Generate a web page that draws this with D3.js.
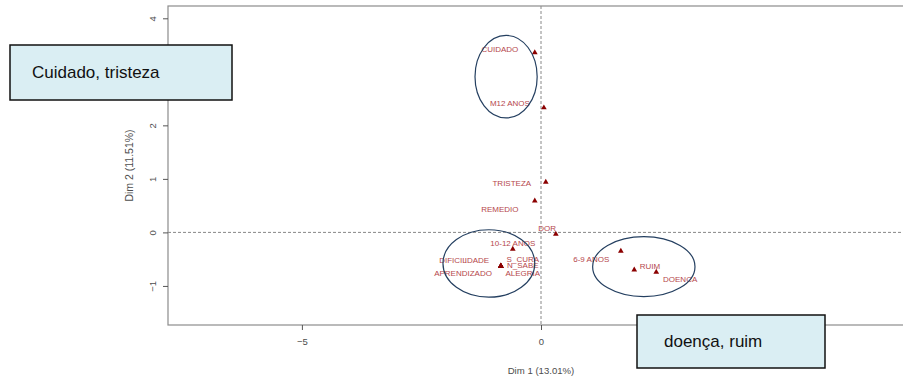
<!DOCTYPE html>
<html>
<head>
<meta charset="utf-8">
<script src="https://cdn.jsdelivr.net/npm/d3@7"></script>
<style>
  html, body { margin: 0; padding: 0; background: #fff; }
  svg { display: block; font-family: "Liberation Sans", Arial, sans-serif; }
</style>
</head>
<body>
<svg id="chart" width="903" height="380"></svg>
<script>
// Category coordinates on the first two dimensions
const categories = ["CUIDADO", "M12 ANOS", "TRISTEZA", "REMEDIO", "DOR", "10-12 ANOS",
  "S_CURA", "N_SABE", "ALEGRIA", "DIFICIL", "IDADE", "APRENDIZADO",
  "6-9 ANOS", "RUIM", "DOENCA"];
const dim1 = [-0.13, 0.06, 0.10, -0.13, 0.31, -0.59,
  -0.84, -0.84, -0.84, -0.84, -0.84, -0.84,
  1.67, 1.95, 2.41];
const dim2 = [3.36, 2.33, 0.94, 0.59, -0.03, -0.31,
  -0.63, -0.63, -0.63, -0.63, -0.63, -0.63,
  -0.35, -0.70, -0.74];
// Label anchor coordinates (after overlap adjustment), same units as the axes
const labelDim1 = [-0.86, -0.65, -0.61, -0.86, 0.13, -0.59,
  -0.38, -0.38, -0.38, -1.84, -1.34, -1.63,
  1.05, 2.28, 2.91];
const labelDim2 = [3.43, 2.42, 0.91, 0.44, 0.08, -0.20,
  -0.50, -0.61, -0.76, -0.51, -0.51, -0.76,
  -0.50, -0.63, -0.87];

// Axis ticks
const xTicks = [-5, 0];
const yTicks = [-1, 0, 1, 2, 3, 4];
const xTitle = "Dim 1 (13.01%)";
const yTitle = "Dim 2 (11.51%)";

// Highlighted groups: centre and radii in axis units
const groupCx = [-0.73, -1.09, 2.15];
const groupCy = [2.91, -0.58, -0.64];
const groupRx = [0.65, 0.96, 1.07];
const groupRy = [0.77, 0.63, 0.56];

// Group captions
const captions = ["Cuidado, tristeza", "doença, ruim"];

const svg = d3.select("#chart");
const plot = { left: 168, right: 914, top: 6, bottom: 325 };

const x = d3.scaleLinear().domain([-7.8, 7.8]).range([plot.left, plot.right]);
const y = d3.scaleLinear().domain([-1.73, 4.23]).range([plot.bottom, plot.top]);

const axisGrey = "#8c8c8c";
const textGrey = "#4d4d4d";

// Reference lines through the origin
svg.append("line")
  .attr("x1", x(0)).attr("x2", x(0))
  .attr("y1", plot.top).attr("y2", plot.bottom)
  .attr("stroke", "#888").attr("stroke-width", 1).attr("stroke-dasharray", "3,2");
svg.append("line")
  .attr("x1", plot.left).attr("x2", plot.right)
  .attr("y1", y(0)).attr("y2", y(0))
  .attr("stroke", "#888").attr("stroke-width", 1).attr("stroke-dasharray", "3,2");

// Plot frame
svg.append("rect")
  .attr("x", plot.left).attr("y", plot.top)
  .attr("width", plot.right - plot.left).attr("height", plot.bottom - plot.top)
  .attr("fill", "none").attr("stroke", axisGrey).attr("stroke-width", 1.2);

// Bottom axis
const xAxis = svg.append("g")
  .attr("transform", `translate(0,${plot.bottom})`)
  .call(d3.axisBottom(x).tickValues(xTicks).tickSize(5).tickPadding(8).tickFormat(d3.format("d")));
xAxis.select(".domain").remove();
xAxis.selectAll(".tick line").attr("stroke", "#555");
xAxis.selectAll(".tick text").attr("fill", textGrey).attr("font-size", 9.5)
  .attr("font-family", "Liberation Sans, Arial, sans-serif");

// Left axis with labels parallel to the axis
const yAxis = svg.append("g")
  .attr("transform", `translate(${plot.left},0)`)
  .call(d3.axisLeft(y).tickValues(yTicks).tickSize(5).tickFormat(d3.format("d")));
yAxis.select(".domain").remove();
yAxis.selectAll(".tick line").attr("stroke", "#555");
yAxis.selectAll(".tick text")
  .attr("fill", textGrey).attr("font-size", 9.5)
  .attr("font-family", "Liberation Sans, Arial, sans-serif")
  .attr("x", null)
  .attr("text-anchor", "middle")
  .attr("transform", "translate(-15,0) rotate(-90)")
  .attr("dy", "0.35em");

// Axis titles
svg.append("text")
  .attr("x", x(0)).attr("y", 374)
  .attr("text-anchor", "middle").attr("font-size", 9.6).attr("fill", textGrey)
  .text(xTitle);
svg.append("text")
  .attr("transform", `translate(133,${(plot.top + plot.bottom) / 2}) rotate(-90)`)
  .attr("text-anchor", "middle").attr("font-size", 10.5).attr("fill", textGrey)
  .text(yTitle);

// Category markers
const triangle = d3.symbol().type(d3.symbolTriangle).size(14);
svg.append("g").selectAll("path")
  .data(categories.map((c, i) => ({ c, px: dim1[i], py: dim2[i] })))
  .join("path")
  .attr("d", triangle)
  .attr("transform", d => `translate(${x(d.px)},${y(d.py)})`)
  .attr("fill", "#8b0000");

// Category labels
svg.append("g").selectAll("text")
  .data(categories.map((c, i) => ({ c, lx: labelDim1[i], ly: labelDim2[i] })))
  .join("text")
  .attr("x", d => x(d.lx)).attr("y", d => y(d.ly))
  .attr("dy", "0.35em")
  .attr("text-anchor", "middle")
  .attr("font-size", 8)
  .attr("fill", "#b5474c")
  .text(d => d.c);

// Group outlines
svg.append("g").selectAll("ellipse")
  .data(groupCx.map((cx, i) => ({ cx, cy: groupCy[i], rx: groupRx[i], ry: groupRy[i] })))
  .join("ellipse")
  .attr("cx", d => x(d.cx)).attr("cy", d => y(d.cy))
  .attr("rx", d => x(d.rx) - x(0)).attr("ry", d => y(0) - y(d.ry))
  .attr("fill", "none").attr("stroke", "#243f60").attr("stroke-width", 1.2);

// Group captions
const boxes = [
  { text: captions[0], x: 10, y: 45, w: 222, h: 55, tx: 32, ty: 78 },
  { text: captions[1], x: 637, y: 315, w: 188, h: 53, tx: 664, ty: 347 }
];
const cap = svg.append("g").selectAll("g").data(boxes).join("g");
cap.append("rect")
  .attr("x", d => d.x).attr("y", d => d.y)
  .attr("width", d => d.w).attr("height", d => d.h)
  .attr("fill", "#daeef3").attr("stroke", "#111").attr("stroke-width", 1.5);
cap.append("text")
  .attr("x", d => d.tx).attr("y", d => d.ty)
  .attr("font-size", 17).attr("fill", "#111")
  .text(d => d.text);
</script>
</body>
</html>
